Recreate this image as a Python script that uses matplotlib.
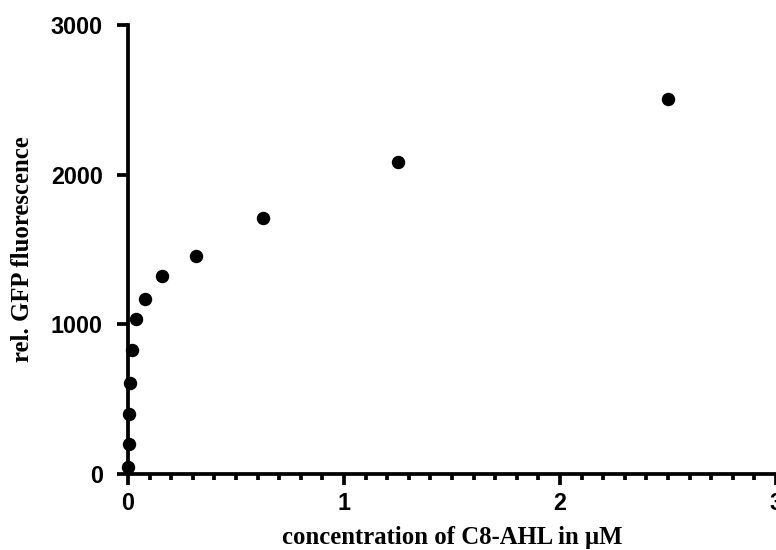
import matplotlib
matplotlib.use("Agg")
import matplotlib.pyplot as plt
from matplotlib.ticker import MultipleLocator

# C8-AHL dilution series (uM) and GFP readout
conc = [2.5, 1.25, 0.625, 0.3125, 0.156, 0.078, 0.039, 0.0195, 0.0098, 0.0049, 0.0024, 0.0012]
gfp = [2505, 2084, 1710, 1456, 1323, 1171, 1035, 826, 610, 398, 200, 50]

x_ticks = [0, 1, 2, 3]
y_ticks = [0, 1000, 2000, 3000]

fig = plt.figure(figsize=(7.76, 5.5), dpi=100)
ax = fig.add_axes([128 / 776, 1 - 474 / 550, 1 - 128 / 776, (474 - 25) / 550])

ax.scatter(conc, gfp, s=75, color="black", zorder=3, clip_on=False)

ax.set_xlim(0, 3)
ax.set_ylim(0, 3000)
ax.set_xticks(x_ticks)
ax.set_yticks(y_ticks)
ax.xaxis.set_minor_locator(MultipleLocator(0.1))

for s in ["top", "right"]:
    ax.spines[s].set_visible(False)
for s in ["left", "bottom"]:
    ax.spines[s].set_linewidth(2.7)

ax.tick_params(axis="both", which="major", length=8, width=2.7, direction="out")
ax.tick_params(axis="x", which="minor", length=4, width=2.7, direction="out")
ax.tick_params(axis="x", which="major", pad=5)
ax.tick_params(axis="y", which="major", pad=10)

for lab in ax.get_xticklabels() + ax.get_yticklabels():
    lab.set_fontfamily("Liberation Sans")
    lab.set_fontweight("bold")
    lab.set_fontsize(16.8)

ax.set_xlabel("concentration of C8-AHL in μM", fontfamily="Liberation Serif",
              fontweight="bold", fontsize=17.8, labelpad=8)
ax.set_ylabel("rel. GFP fluorescence", fontfamily="Liberation Serif",
              fontweight="bold", fontsize=17.8, labelpad=12)

fig.savefig("out.png", dpi=100)
